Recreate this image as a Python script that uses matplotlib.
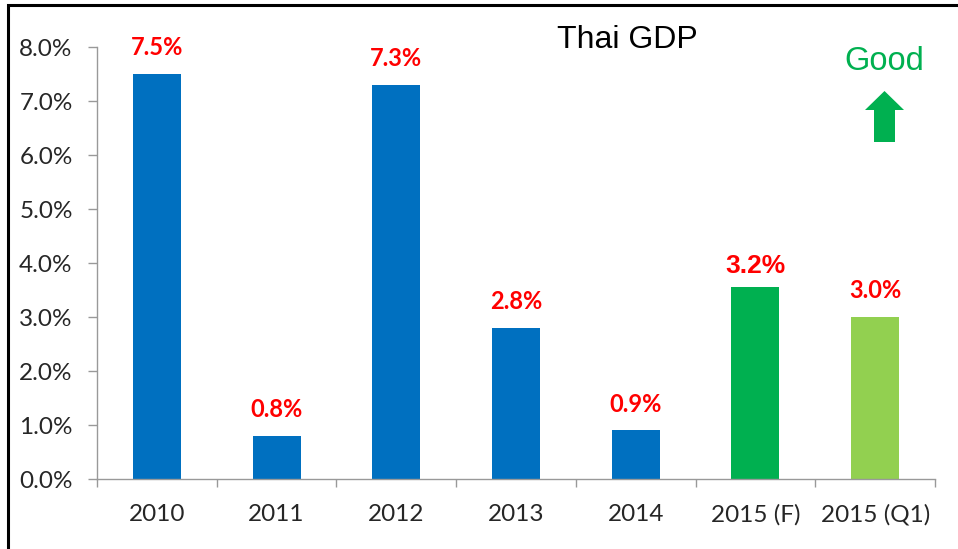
import numpy as np
import matplotlib.pyplot as plt
from matplotlib.patches import Rectangle, Polygon

# Thai GDP growth (%)
years = ["2010", "2011", "2012", "2013", "2014", "2015 (F)", "2015 (Q1)"]
growth = [7.5, 0.8, 7.3, 2.8, 0.9, 3.55, 3.0]  # bar heights as drawn
labels = ["7.5%", "0.8%", "7.3%", "2.8%", "0.9%", "3.2%", "3.0%"]
colors = ["#0070C0"] * 5 + ["#00B050", "#92D050"]
y_ticks = [0, 1, 2, 3, 4, 5, 6, 7, 8]

W, H = 958, 549
fig = plt.figure(figsize=(W / 100, H / 100), dpi=100)
ax = fig.add_axes([97 / W, 1 - 479 / H, (935 - 97) / W, (479 - 47) / H])

x = np.arange(len(years))
ax.bar(x, growth, width=0.4, color=colors, zorder=2)

# data labels
for i, (v, t) in enumerate(zip(growth, labels)):
    if t == "3.2%":
        ax.annotate(t, (i, v), xytext=(0, 15), textcoords="offset points",
                    ha="center", va="center", color="#FF0000", fontsize=19,
                    fontweight="bold", family="Liberation Sans", annotation_clip=False)
    else:
        ax.annotate(t, (i, v), xytext=(0, 19), textcoords="offset points",
                    ha="center", va="center", color="#FF0000", fontsize=17,
                    fontweight="bold", family="Lato", annotation_clip=False)

ax.set_xlim(-0.5, len(years) - 0.5)
ax.set_ylim(0, 8)

# y axis
ax.set_yticks(y_ticks)
ax.set_yticklabels([f"{v:.1f}%" for v in y_ticks], family="Lato", fontsize=17.5, color="#262626")
ax.tick_params(axis="y", length=6.5, width=1, color="#999999", pad=11)

# x axis: ticks between categories, labels at centers
ax.set_xticks(np.arange(-0.5, len(years), 1.0))
ax.set_xticklabels([])
ax.tick_params(axis="x", which="major", length=6, width=1, color="#999999")
ax.set_xticks(x, minor=True)
ax.set_xticklabels(years, minor=True, family="Lato", fontsize=17.5, color="#262626")
ax.tick_params(axis="x", which="minor", length=0, pad=18)

for s in ["top", "right"]:
    ax.spines[s].set_visible(False)
for s in ["left", "bottom"]:
    ax.spines[s].set_color("#999999")
    ax.spines[s].set_linewidth(1)

# title and "Good" marker
fig.text(627 / W, 1 - 40 / H, "Thai GDP", ha="center", va="center",
         family="Liberation Sans", fontsize=23, color="black")
fig.text(884 / W, 1 - 61 / H, "Good", ha="center", va="center",
         family="Liberation Sans", fontsize=23.5, color="#00B050")
arrow_px = [(865, 110), (884.5, 91), (904, 110), (895, 110), (895, 142), (874, 142), (874, 110)]
fig.patches.append(Polygon([(px / W, 1 - py / H) for px, py in arrow_px], closed=True,
                           facecolor="#00B050", edgecolor="none", transform=fig.transFigure))

# frame around the picture
fig.patches.append(Rectangle((8 / W, -0.1), 1.2, 1.1 - 5 / H, fill=False,
                             edgecolor="black", linewidth=2.2, transform=fig.transFigure))

fig.savefig("out.png", dpi=100)
